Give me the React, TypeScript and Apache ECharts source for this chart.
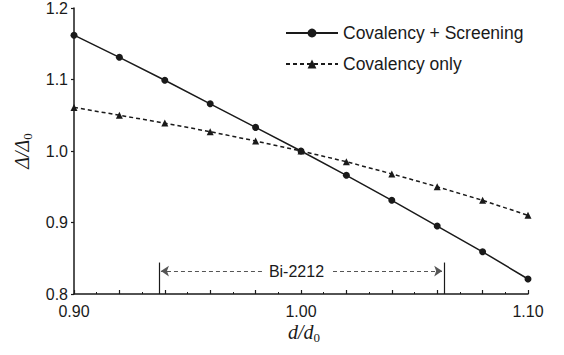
import React, { useEffect, useRef } from "react";
import * as echarts from "echarts";

const xValues = [0.9, 0.92, 0.94, 0.96, 0.98, 1.0, 1.02, 1.04, 1.06, 1.08, 1.1];
const screeningValues = [1.162, 1.131, 1.099, 1.066, 1.033, 1.0, 0.966, 0.931, 0.895, 0.859, 0.821];
const covalencyValues = [1.061, 1.05, 1.039, 1.027, 1.014, 1.0, 0.985, 0.968, 0.95, 0.931, 0.91];
const seriesNames = ["Covalency + Screening", "Covalency only"];
const rangeLabel = "Bi-2212";
const rangeLeft = 0.9375;
const rangeRight = 1.063;
const rangeTop = 0.844;
const rangeArrowY = 0.832;
const rangeArrowInnerLeft = 0.9828;
const rangeArrowInnerRight = 1.0141;
const rangeLabelX = 0.998;
const xMajorLabels = [0.9, 1.0, 1.1];

const FONT = "Liberation Sans, Arial, sans-serif";
const SERIF = "Liberation Serif, Times New Roman, serif";
const INK = "#1a1a1a";

export default function App() {
  const ref = useRef<HTMLDivElement>(null);
  useEffect(() => {
    document.body.style.margin = "0";
    if (!ref.current) return;
    const chart = echarts.init(ref.current, undefined, { renderer: "svg" });
    const solidData = xValues.map((x, i) => [x, screeningValues[i]]);
    const dashedData = xValues.map((x, i) => [x, covalencyValues[i]]);
    const arrowStyle = { color: "#555", width: 1, type: [4, 3] as any };
    chart.setOption({
      animation: false,
      grid: { left: 74, right: 36, top: 6, bottom: 61 },
      legend: {
        orient: "vertical",
        left: 280,
        top: 18,
        itemWidth: 52,
        itemHeight: 11,
        itemGap: 11,
        data: seriesNames,
        textStyle: { fontFamily: FONT, fontSize: 17.5, color: INK, lineHeight: 20 },
      },
      xAxis: {
        type: "value",
        min: 0.9,
        max: 1.1,
        interval: 0.02,
        axisLine: { show: true, lineStyle: { color: INK, width: 1.5 } },
        axisTick: { show: true, inside: true, length: 4, lineStyle: { color: INK, width: 1.2 } },
        minorTick: { show: true, splitNumber: 2, length: 2, lineStyle: { color: INK, width: 1 } },
        splitLine: { show: false },
        axisLabel: {
          margin: 9,
          fontFamily: FONT,
          fontSize: 16,
          color: INK,
          formatter: (v: number) =>
            xMajorLabels.some((m) => Math.abs(m - v) < 1e-6) ? v.toFixed(2) : "",
        },
      },
      yAxis: {
        type: "value",
        min: 0.8,
        max: 1.2,
        interval: 0.1,
        axisLine: { show: true, lineStyle: { color: INK, width: 1.5 } },
        axisTick: { show: true, inside: false, length: 3, lineStyle: { color: INK, width: 1.2 } },
        splitLine: { show: false },
        axisLabel: {
          margin: 6,
          fontFamily: FONT,
          fontSize: 16,
          color: INK,
          formatter: (v: number) => v.toFixed(1),
        },
      },
      graphic: [
        {
          type: "text",
          left: 288,
          top: 322,
          style: {
            text: "{i|d}{n|/}{i|d}{s|0}",
            rich: {
              i: { fontFamily: SERIF, fontStyle: "italic", fontSize: 20, lineHeight: 24, fill: INK },
              n: { fontFamily: SERIF, fontStyle: "italic", fontSize: 20, lineHeight: 24, fill: INK },
              s: { fontFamily: SERIF, fontSize: 13, lineHeight: 13, verticalAlign: "bottom", fill: INK },
            },
          },
        },
        {
          type: "text",
          x: 22,
          y: 151,
          rotation: Math.PI / 2,
          style: {
            text: "{i|Δ}{n|/}{i|Δ}{s|0}",
            align: "center",
            verticalAlign: "middle",
            rich: {
              i: { fontFamily: SERIF, fontStyle: "italic", fontSize: 20, lineHeight: 24, fill: INK },
              n: { fontFamily: SERIF, fontStyle: "italic", fontSize: 20, lineHeight: 24, fill: INK },
              s: { fontFamily: SERIF, fontSize: 13, lineHeight: 13, verticalAlign: "bottom", fill: INK },
            },
          },
        },
      ],
      series: [
        {
          name: seriesNames[0],
          type: "line",
          data: solidData,
          symbol: "circle",
          symbolSize: 7,
          itemStyle: { color: INK },
          lineStyle: { color: INK, width: 1.5, type: "solid" },
          z: 3,
        },
        {
          name: seriesNames[1],
          type: "line",
          data: dashedData,
          symbol: "triangle",
          symbolSize: 7,
          itemStyle: { color: INK },
          lineStyle: { color: INK, width: 1.5, type: [4, 3] },
          z: 2,
          markLine: {
            silent: true,
            symbol: ["none", "none"],
            label: { show: false },
            data: [
              [
                { coord: [rangeLeft, 0.8], lineStyle: { color: INK, width: 1.2, type: "solid" } },
                { coord: [rangeLeft, rangeTop] },
              ],
              [
                { coord: [rangeRight, 0.8], lineStyle: { color: INK, width: 1.2, type: "solid" } },
                { coord: [rangeRight, rangeTop] },
              ],
              [
                { coord: [rangeArrowInnerLeft, rangeArrowY], symbol: "none", lineStyle: arrowStyle },
                { coord: [rangeLeft + 0.0008, rangeArrowY], symbol: "arrow", symbolSize: 8 },
              ],
              [
                { coord: [rangeArrowInnerRight, rangeArrowY], symbol: "none", lineStyle: arrowStyle },
                { coord: [rangeRight - 0.0008, rangeArrowY], symbol: "arrow", symbolSize: 8 },
              ],
            ],
          },
          markPoint: {
            silent: true,
            symbol: "circle",
            symbolSize: 0,
            data: [
              {
                coord: [rangeLabelX, rangeArrowY],
                label: {
                  show: true,
                  position: "inside",
                  formatter: rangeLabel,
                  fontFamily: FONT,
                  fontSize: 16,
                  color: INK,
                },
              },
            ],
          },
        },
      ],
    });
    return () => chart.dispose();
  }, []);
  return <div ref={ref} style={{ width: 564, height: 355 }} />;
}
